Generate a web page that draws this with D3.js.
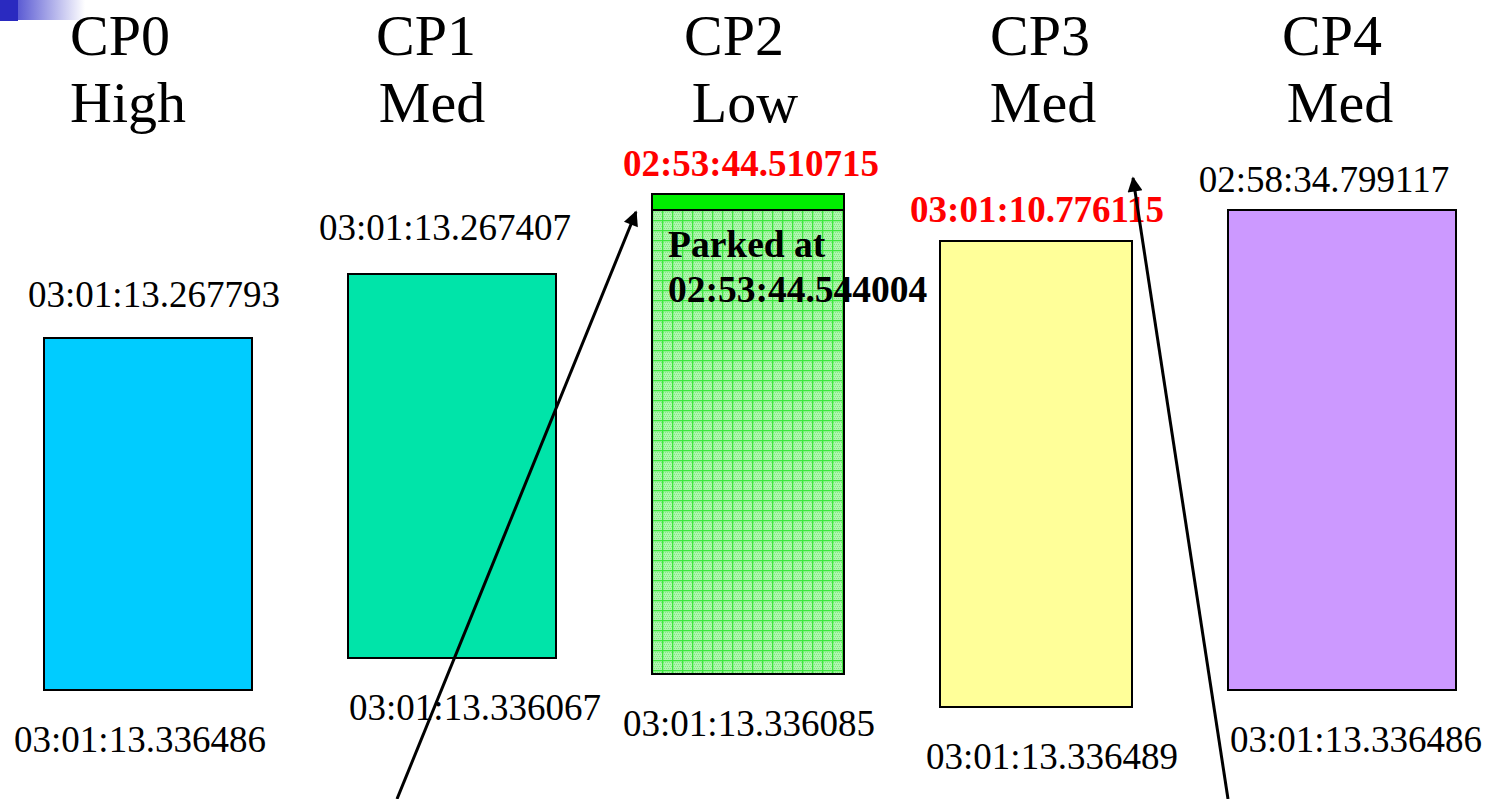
<!DOCTYPE html>
<html><head><meta charset="utf-8">
<script src="https://cdn.jsdelivr.net/npm/d3@7"></script>
<style>body{margin:0;background:#fff;} svg{display:block;}</style>
</head><body>
<script>
// ---- data ----
const categories = ["CP0","CP1","CP2","CP3","CP4"];
const priorities = ["High","Med","Low","Med","Med"];
const startLabels = ["03:01:13.267793","03:01:13.267407","02:53:44.510715","03:01:10.776115","02:58:34.799117"];
const endLabels = ["03:01:13.336486","03:01:13.336067","03:01:13.336085","03:01:13.336489","03:01:13.336486"];
const startHighlighted = [false,false,true,true,false];
// bar extents on the diagram's vertical level axis (0 = bottom of picture)
const barTopLevel = [461,525,605,558,589];
const barBottomLevel = [109,141,125,92,109];
const parkedTopLevel = 605, parkedBandLevel = 589; // CP2 parked band
const parkedLabel = ["Parked at","02:53:44.544004"];

// ---- layout / style ----
const W = 1490, H = 799;
const barColors = ["#00ccff","#00e4a9","url(#grid)","#ffff99","#cc99ff"];
const barWidths = [208,208,192,192,228];
const barDx = [-1,5,3,-7,1];
const titleDx = [-29,-21,-11,-3,-9];
const prioDx = [-21,-15,0,0,-1];
const topLabelDx = [6,-7,3,1,-18];
const topLabelGap = [31,34,18,19,18];
const botLabelDx = [-8,23,1,16,14];

const svg = d3.select("body").append("svg").attr("width",W).attr("height",H);
const defs = svg.append("defs");
const lg = defs.append("linearGradient").attr("id","corner").attr("x1",0).attr("x2",1).attr("y1",0).attr("y2",0);
lg.append("stop").attr("offset","0%").attr("stop-color","#3030c8");
lg.append("stop").attr("offset","100%").attr("stop-color","#ffffff");
const pat = defs.append("pattern").attr("id","grid").attr("patternUnits","userSpaceOnUse")
  .attr("width",10).attr("height",10).attr("x",652).attr("y",0);
pat.append("rect").attr("width",10).attr("height",10).attr("fill","#b0f5b0");
for (let i=0;i<10;i+=2) for (let j=0;j<10;j+=2) {
  pat.append("rect").attr("x",i+((j/2)%2)).attr("y",j).attr("width",1).attr("height",1).attr("fill","#7fea7f");
}
pat.append("rect").attr("x",0).attr("y",0).attr("width",10).attr("height",1.3).attr("fill","#3be83b");
pat.append("rect").attr("x",0).attr("y",0).attr("width",1.3).attr("height",10).attr("fill","#3be83b");
const mk = defs.append("marker").attr("id","ah").attr("viewBox","0 0 10 10").attr("refX",9).attr("refY",5)
  .attr("markerWidth",9).attr("markerHeight",5).attr("orient","auto").attr("markerUnits","strokeWidth");
mk.append("path").attr("d","M0,0 L10,5 L0,10 z").attr("fill","#000");

// corner decoration
svg.append("rect").attr("x",0).attr("y",0).attr("width",85).attr("height",20).attr("fill","url(#corner)");
svg.append("rect").attr("x",0).attr("y",0).attr("width",18).attr("height",21).attr("fill","#2a2ac0");

const x = d3.scaleBand().domain(categories).range([0,W]);
const y = d3.scaleLinear().domain([0,H]).range([H,0]);
const cx = (d,i) => x(d) + x.bandwidth()/2;

const serif = "'Liberation Serif','Times New Roman',serif";

// titles
svg.selectAll("text.title").data(categories).join("text").attr("class","title")
  .attr("x",(d,i)=>cx(d,i)+titleDx[i]).attr("y",55).attr("text-anchor","middle")
  .attr("font-family",serif).attr("font-size",58).text(d=>d);
svg.selectAll("text.prio").data(priorities).join("text").attr("class","prio")
  .attr("x",(d,i)=>cx(categories[i],i)+prioDx[i]).attr("y",122).attr("text-anchor","middle")
  .attr("font-family",serif).attr("font-size",58).text(d=>d);

// bars
svg.selectAll("rect.bar").data(categories).join("rect").attr("class","bar")
  .attr("x",(d,i)=>cx(d,i)+barDx[i]-barWidths[i]/2)
  .attr("y",(d,i)=>y(barTopLevel[i]))
  .attr("width",(d,i)=>barWidths[i])
  .attr("height",(d,i)=>y(barBottomLevel[i])-y(barTopLevel[i]))
  .attr("fill",(d,i)=>barColors[i]).attr("stroke","#000").attr("stroke-width",2);
// parked band on CP2
const i2 = 2;
svg.append("rect").attr("x",cx(categories[i2])+barDx[i2]-barWidths[i2]/2).attr("y",y(parkedTopLevel))
  .attr("width",barWidths[i2]).attr("height",y(parkedBandLevel)-y(parkedTopLevel))
  .attr("fill","#00ee00").attr("stroke","#000").attr("stroke-width",2);

// start labels
svg.selectAll("text.start").data(startLabels).join("text").attr("class","start")
  .attr("x",(d,i)=>cx(categories[i])+barDx[i]+topLabelDx[i]).attr("y",(d,i)=>y(barTopLevel[i])-topLabelGap[i])
  .attr("text-anchor","middle").attr("font-family",serif).attr("font-size",37)
  .attr("font-weight",(d,i)=>startHighlighted[i]?"bold":"normal")
  .attr("fill",(d,i)=>startHighlighted[i]?"#ff0000":"#000").text(d=>d);
// end labels
svg.selectAll("text.end").data(endLabels).join("text").attr("class","end")
  .attr("x",(d,i)=>cx(categories[i])+barDx[i]+botLabelDx[i]).attr("y",(d,i)=>y(barBottomLevel[i])+62)
  .attr("text-anchor","middle").attr("font-family",serif).attr("font-size",37).text(d=>d);

// parked text
const bx2 = cx(categories[i2])+barDx[i2]-barWidths[i2]/2;
svg.selectAll("text.park").data(parkedLabel).join("text").attr("class","park")
  .attr("x",bx2+16).attr("y",(d,k)=>y(parkedBandLevel)+47+k*45)
  .attr("font-family",serif).attr("font-size",37.5).attr("font-weight","bold").text(d=>d);

// arrows (pointing at the start timestamps)
const arrows = [
  {from:[397,H], toCat:2},
  {from:[1228,H], toCat:3}
];
const arrowTip = [[636,212],[1133,178]];
svg.selectAll("line.arrow").data(arrows).join("line").attr("class","arrow")
  .attr("x1",d=>d.from[0]).attr("y1",d=>d.from[1])
  .attr("x2",(d,k)=>arrowTip[k][0]).attr("y2",(d,k)=>arrowTip[k][1])
  .attr("stroke","#000").attr("stroke-width",3).attr("marker-end","url(#ah)");
</script>
</body></html>
